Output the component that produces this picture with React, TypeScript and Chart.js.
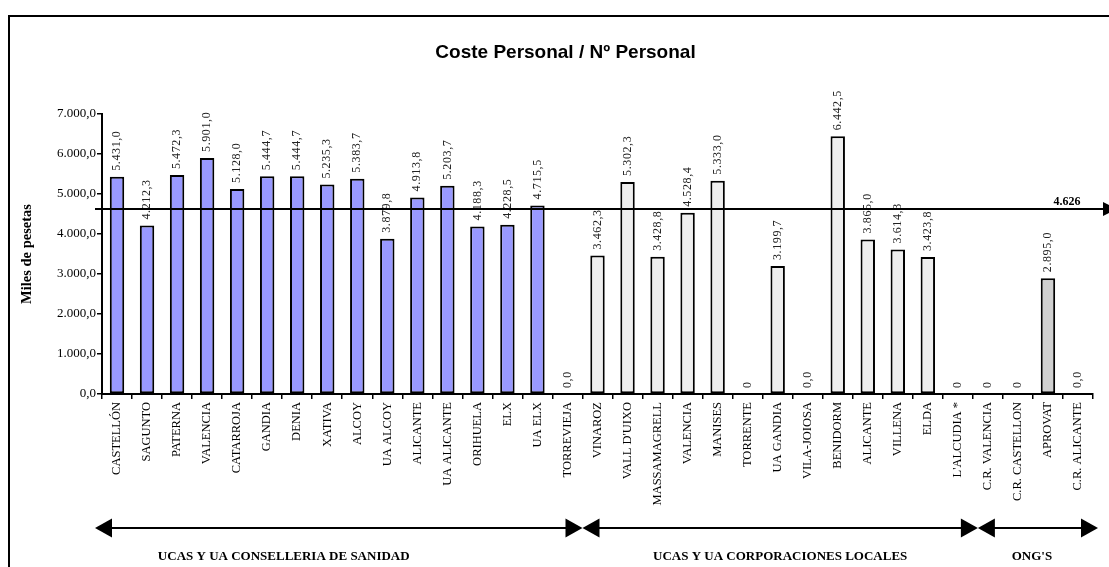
import React, { useEffect, useRef } from 'react';
import { Chart, registerables } from 'chart.js';

Chart.register(...registerables);

const categories = [
  'CASTELLÓN', 'SAGUNTO', 'PATERNA', 'VALENCIA', 'CATARROJA', 'GANDIA', 'DENIA', 'XATIVA',
  'ALCOY', 'UA ALCOY', 'ALICANTE', 'UA ALICANTE', 'ORIHUELA', 'ELX', 'UA ELX', 'TORREVIEJA',
  'VINAROZ', "VALL D'UIXO", 'MASSAMAGRELL', 'VALENCIA', 'MANISES', 'TORRENTE', 'UA GANDIA',
  'VILA-JOIOSA', 'BENIDORM', 'ALICANTE', 'VILLENA', 'ELDA', "L'ALCUDIA *",
  'C.R. VALENCIA', 'C.R. CASTELLON', 'APROVAT', 'C.R. ALICANTE',
];

// Coste de personal por persona (miles de pesetas)
const costPerEmployee = [
  5431.0, 4212.3, 5472.3, 5901.0, 5128.0, 5444.7, 5444.7, 5235.3,
  5383.7, 3879.8, 4913.8, 5203.7, 4188.3, 4228.5, 4715.5, 0.0,
  3462.3, 5302.3, 3428.8, 4528.4, 5333.0, 0, 3199.7,
  0.0, 6442.5, 3865.0, 3614.3, 3423.8, 0,
  0, 0, 2895.0, 0.0,
];

// centres whose zero is printed without decimals
const bareZeroIdx = [21, 28, 29, 30];

const groupNames = ['UCAS Y UA CONSELLERIA DE SANIDAD', 'UCAS Y UA CORPORACIONES LOCALES', "ONG'S"];
const groupSizes = [16, 13, 4];
const groupColors = ['#9999FF', '#EEEEEE', '#D0D0D0'];

const yTickLabels = ['0,0', '1.000,0', '2.000,0', '3.000,0', '4.000,0', '5.000,0', '6.000,0', '7.000,0'];

const meanCost = 4626;

const SERIF = '"Liberation Serif", "Times New Roman", serif';
const SANS = '"Liberation Sans", Arial, sans-serif';

function fmtEs(v: number, dec: number): string {
  const [i, d] = v.toFixed(dec).split('.');
  const int = i.replace(/\B(?=(\d{3})+(?!\d))/g, '.');
  return d ? int + ',' + d : int;
}

const valueLabels = costPerEmployee.map((v, i) =>
  bareZeroIdx.includes(i) ? fmtEs(v, 0) : fmtEs(v, 1)
);

const groupOf: number[] = [];
groupSizes.forEach((n, g) => {
  for (let k = 0; k < n; k++) groupOf.push(g);
});
const barColors = categories.map((name, i) =>
  name === 'APROVAT' ? groupColors[2] : groupColors[Math.min(groupOf[i], 1)]
);

function arrowHead(ctx: CanvasRenderingContext2D, tipX: number, y: number, dir: number, len: number, half: number) {
  ctx.beginPath();
  ctx.moveTo(tipX, y);
  ctx.lineTo(tipX - dir * len, y - half);
  ctx.lineTo(tipX - dir * len, y + half);
  ctx.closePath();
  ctx.fill();
}

const decorations = {
  id: 'decorations',
  afterDatasetsDraw(chart: any) {
    const ctx: CanvasRenderingContext2D = chart.ctx;
    const meta = chart.getDatasetMeta(0);

    // rotated value labels above each bar
    meta.data.forEach((bar: any, i: number) => {
      ctx.save();
      ctx.translate(bar.x, bar.y - 6);
      ctx.rotate(-Math.PI / 2);
      ctx.font = `12px ${SERIF}`;
      (ctx as any).letterSpacing = '0.6px';
      ctx.fillStyle = '#222';
      ctx.textAlign = 'left';
      ctx.textBaseline = 'middle';
      ctx.fillText(valueLabels[i], 0, 0);
      ctx.restore();
    });

    // average line with arrow and its value
    const y = chart.scales.y.getPixelForValue(meanCost);
    const { left } = chart.chartArea;
    ctx.save();
    ctx.strokeStyle = '#000';
    ctx.fillStyle = '#000';
    ctx.lineWidth = 2;
    ctx.beginPath();
    ctx.moveTo(left - 7, y);
    ctx.lineTo(chart.width, y);
    ctx.stroke();
    arrowHead(ctx, chart.width + 8, y, 1, 14, 7);
    ctx.font = `bold 12px ${SERIF}`;
    ctx.textAlign = 'center';
    ctx.textBaseline = 'alphabetic';
    ctx.fillText(fmtEs(meanCost, 0), chart.width - 42, y - 4);
    ctx.restore();
  },
  afterDraw(chart: any) {
    const ctx: CanvasRenderingContext2D = chart.ctx;
    const xs = chart.scales.x;
    ctx.save();

    // frame
    ctx.strokeStyle = '#000';
    ctx.lineWidth = 2;
    ctx.strokeRect(9, 16, 1114, 600);

    // title
    ctx.fillStyle = '#000';
    ctx.font = `bold 19px ${SANS}`;
    ctx.textAlign = 'center';
    ctx.textBaseline = 'middle';
    ctx.fillText('Coste Personal / Nº Personal', chart.width / 2 + 11, 53);

    // group arrows and captions
    const arrowY = 528;
    const captionShift = [-55, 0, -6];
    const edgeShift = [[-7, 0], [0, 5], [5, 5]];
    let start = 0;
    groupSizes.forEach((n, g) => {
      const x1 = xs.getPixelForValue(start - 0.5) + edgeShift[g][0];
      const x2 = xs.getPixelForValue(start + n - 0.5) + edgeShift[g][1];
      ctx.lineWidth = 2;
      ctx.beginPath();
      ctx.moveTo(x1 + 10, arrowY);
      ctx.lineTo(x2 - 10, arrowY);
      ctx.stroke();
      arrowHead(ctx, x1, arrowY, -1, 17, 9.5);
      arrowHead(ctx, x2, arrowY, 1, 17, 9.5);
      ctx.font = `bold 13px ${SERIF}`;
      ctx.textAlign = 'center';
      ctx.textBaseline = 'middle';
      ctx.fillText(groupNames[g], (x1 + x2) / 2 + captionShift[g], 557);
      start += n;
    });
    ctx.restore();
  },
};

export default function App() {
  const canvasRef = useRef<HTMLCanvasElement>(null);

  useEffect(() => {
    if (!canvasRef.current) return;
    const chart = new Chart(canvasRef.current, {
      type: 'bar',
      data: {
        labels: categories,
        datasets: [
          {
            data: costPerEmployee,
            backgroundColor: barColors,
            borderColor: '#000',
            borderWidth: 2,
            borderSkipped: false,
            categoryPercentage: 1,
            barPercentage: 0.48,
          },
        ],
      },
      options: {
        responsive: false,
        animation: false,
        layout: { padding: { left: 14, top: 114, right: 16, bottom: 0 } },
        plugins: {
          legend: { display: false },
          tooltip: { enabled: false },
          title: { display: false },
        },
        scales: {
          x: {
            offset: true,
            grid: {
              display: true,
              drawOnChartArea: false,
              drawTicks: true,
              tickLength: 5,
              color: '#000',
              lineWidth: 1.5,
              offset: true,
            },
            border: { display: true, color: '#000', width: 2 },
            ticks: {
              autoSkip: false,
              maxRotation: 90,
              minRotation: 90,
              padding: 3,
              color: '#000',
              font: { family: SERIF, size: 12.5 },
            },
            afterFit: (s: any) => {
              s.height = 173;
            },
          },
          y: {
            min: 0,
            max: 7000,
            ticks: {
              stepSize: 1000,
              padding: 1,
              color: '#000',
              font: { family: SERIF, size: 13 },
              callback: (_v: any, i: number) => yTickLabels[i],
            },
            grid: {
              drawOnChartArea: false,
              tickLength: 5,
              color: '#000',
              lineWidth: 1.5,
            },
            border: { color: '#000', width: 2 },
            title: {
              display: true,
              text: 'Miles de pesetas',
              color: '#000',
              font: { family: SERIF, size: 14.5, weight: 'bold' },
              padding: { top: 5, bottom: 0 },
            },
            afterFit: (s: any) => {
              s.width = 88;
            },
          },
        },
      },
      plugins: [decorations],
    });
    return () => chart.destroy();
  }, []);

  return (
    <div style={{ position: 'fixed', left: 0, top: 0, width: 1109, height: 567, background: '#fff', overflow: 'hidden' }}>
      <canvas ref={canvasRef} width={1109} height={567} style={{ display: 'block' }} />
    </div>
  );
}
